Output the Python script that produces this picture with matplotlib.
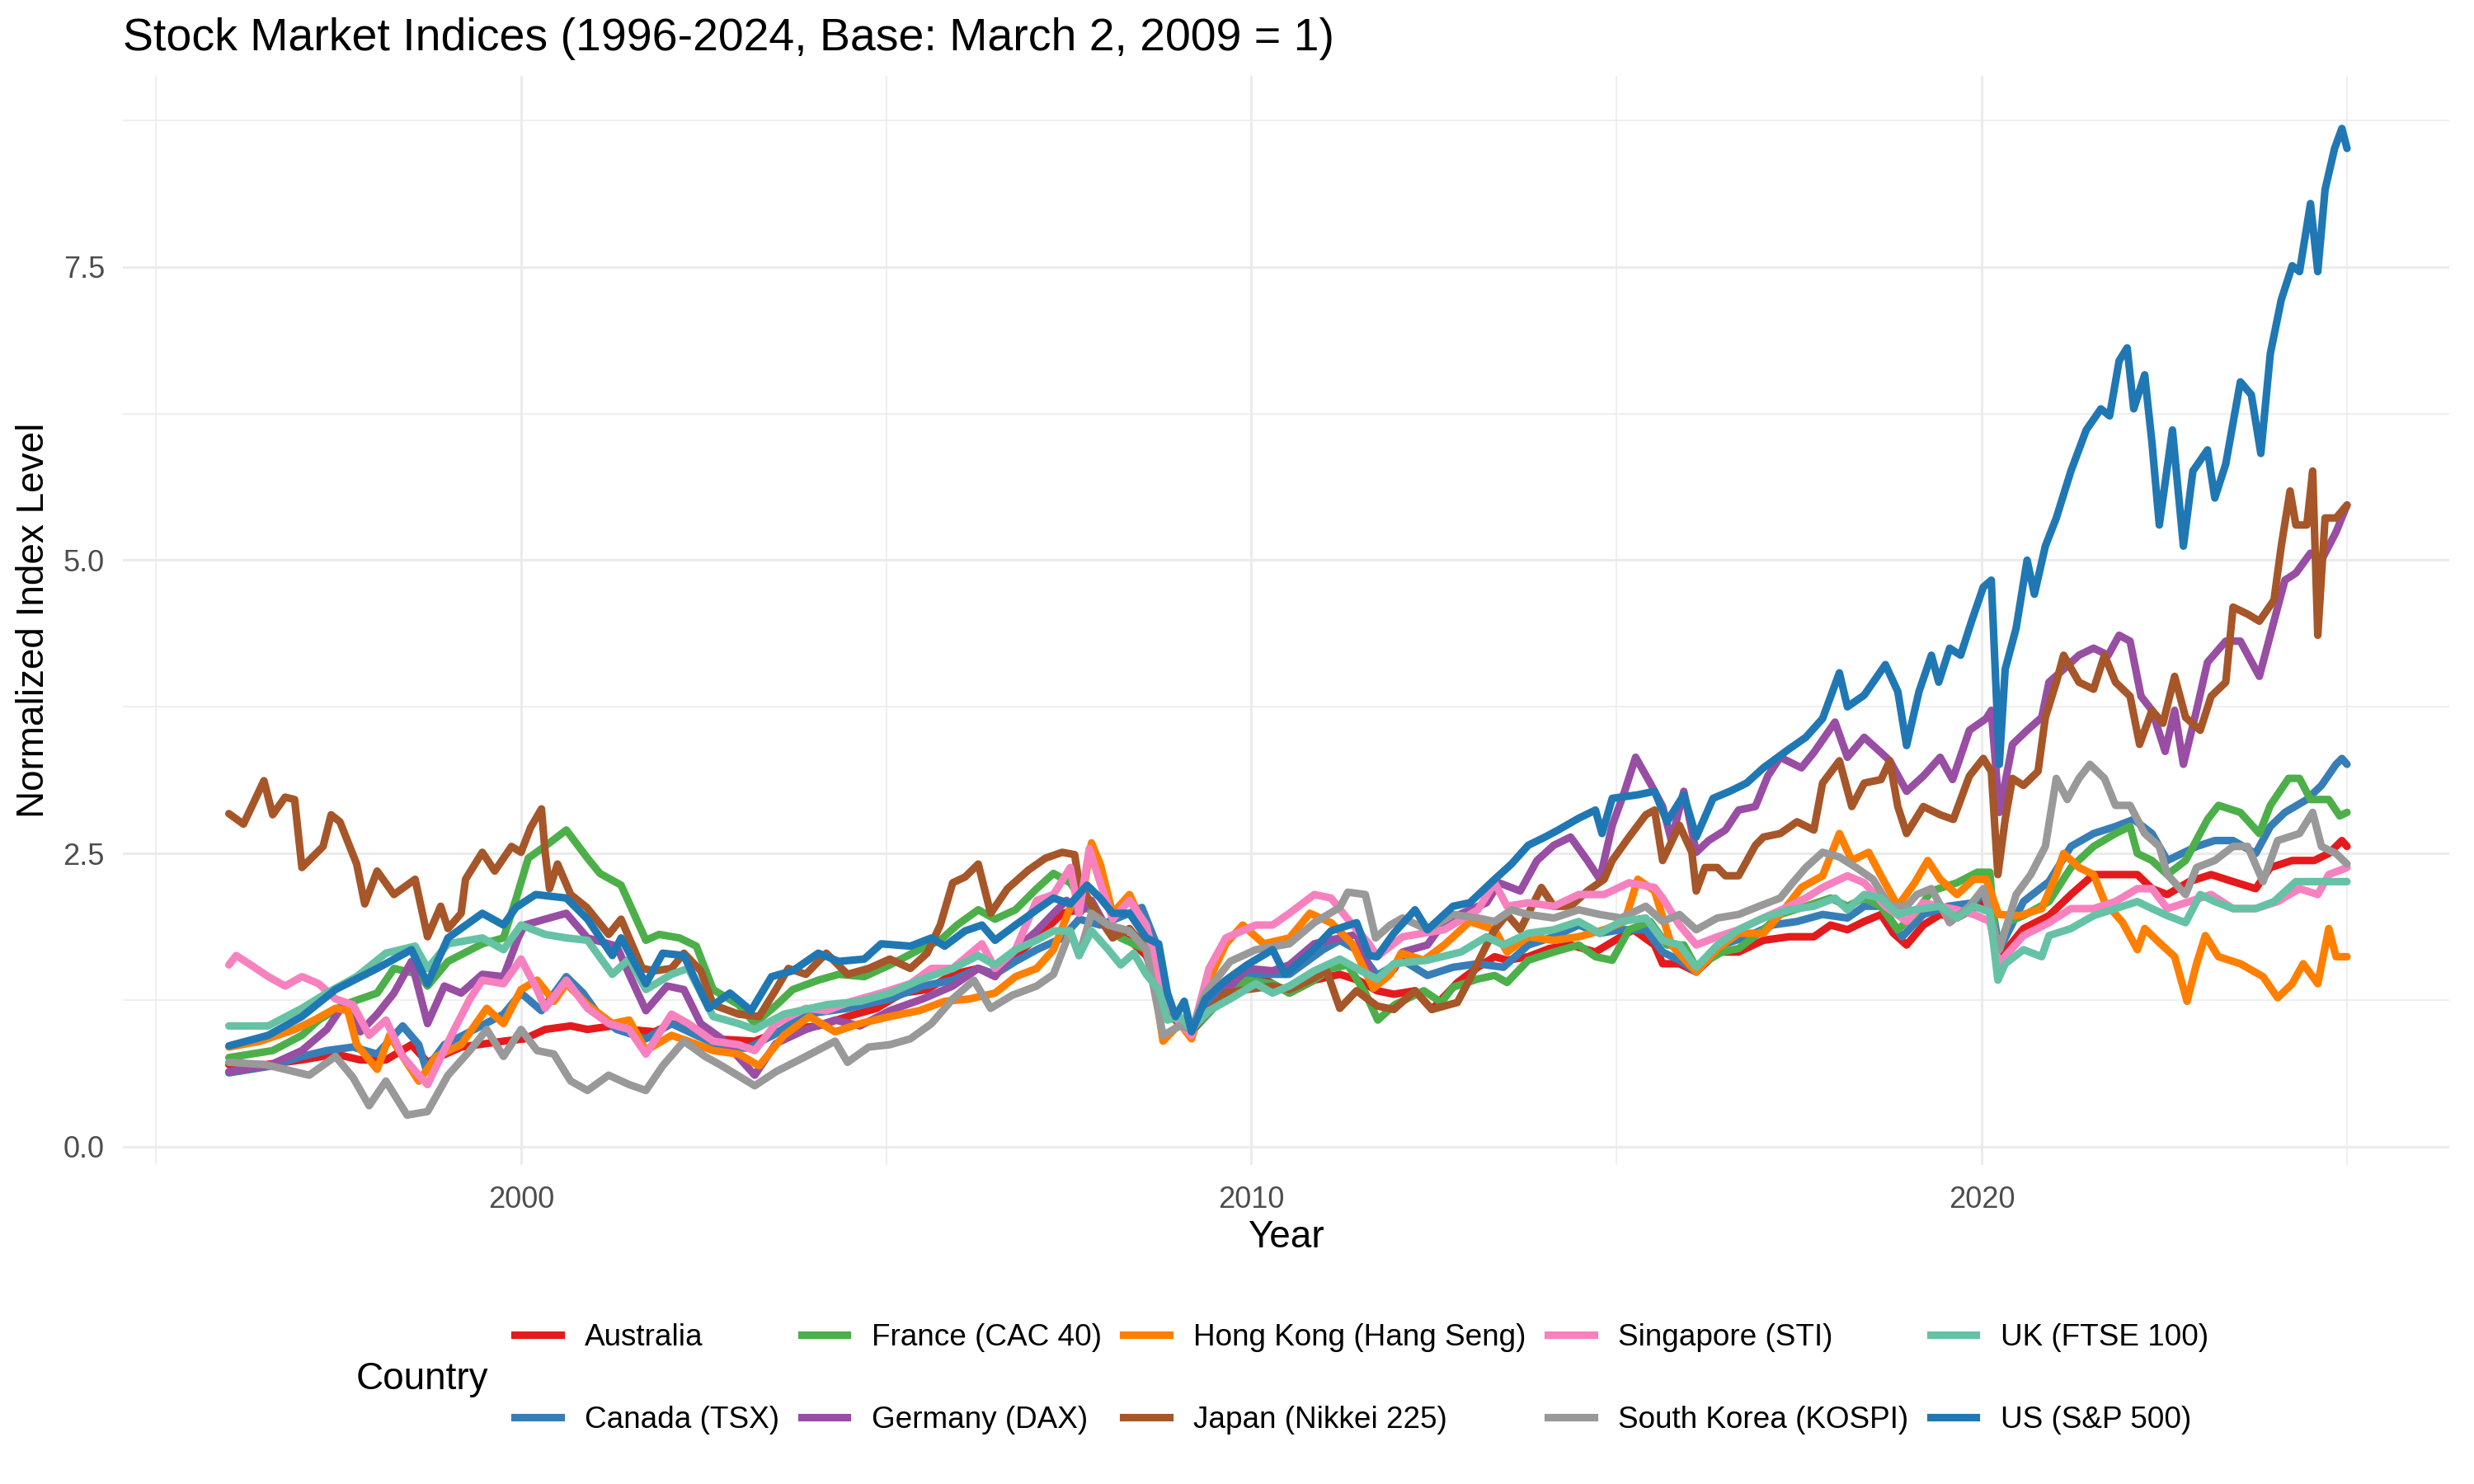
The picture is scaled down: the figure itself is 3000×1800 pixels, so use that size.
import numpy as np
import matplotlib.pyplot as plt
from matplotlib.lines import Line2D

plt.rcParams['font.family'] = ['Liberation Sans', 'DejaVu Sans']

# values (decimal year, normalized level)
aus_t = [1996.0, 1996.5, 1997.0, 1997.46, 1997.8, 1998.15, 1998.5, 1998.72, 1999.18, 1999.76,
         2000.05, 2000.33, 2000.68, 2000.91, 2001.25, 2001.48, 2001.83, 2002.06, 2002.4, 2002.63,
         2003.2, 2003.6, 2004.07, 2004.47, 2004.87, 2005.22, 2005.56, 2005.91, 2006.26, 2006.49,
         2006.77, 2007.06, 2007.41, 2007.64, 2007.81, 2008.04, 2008.33, 2008.56, 2008.79, 2009.02,
         2009.18, 2009.48, 2009.94, 2010.29, 2010.52, 2010.86, 2011.21, 2011.46, 2011.72, 2011.95,
         2012.24, 2012.47, 2012.82, 2013.1, 2013.33, 2013.5, 2013.79, 2014.08, 2014.37, 2014.71,
         2015.06, 2015.23, 2015.52, 2015.63, 2015.86, 2016.09, 2016.38, 2016.67, 2017.01, 2017.36,
         2017.7, 2017.93, 2018.16, 2018.39, 2018.62, 2018.79, 2018.97, 2019.2, 2019.43, 2019.66,
         2019.94, 2020.11, 2020.23, 2020.57, 2020.92, 2021.22, 2021.53, 2021.83, 2022.13, 2022.33,
         2022.54, 2022.84, 2023.14, 2023.44, 2023.75, 2023.95, 2024.25, 2024.55, 2024.75, 2024.93,
         2025.0]
aus_v = [0.70, 0.70, 0.74, 0.79, 0.74, 0.74, 0.87, 0.72, 0.85, 0.90,
         0.92, 1.00, 1.03, 1.00, 1.03, 1.00, 0.98, 1.05, 1.00, 0.92,
         0.90, 1.00, 1.03, 1.11, 1.18, 1.31, 1.34, 1.47, 1.52, 1.47,
         1.63, 1.78, 1.99, 2.02, 2.04, 1.84, 1.76, 1.63, 1.26, 1.05,
         1.00, 1.31, 1.52, 1.39, 1.31, 1.42, 1.47, 1.42, 1.33, 1.30,
         1.33, 1.17, 1.40, 1.53, 1.62, 1.59, 1.62, 1.69, 1.72, 1.66,
         1.79, 1.85, 1.72, 1.56, 1.56, 1.49, 1.66, 1.66, 1.76, 1.79,
         1.79, 1.89, 1.85, 1.92, 1.98, 1.82, 1.72, 1.89, 1.98, 1.95,
         2.05, 2.10, 1.60, 1.86, 1.97, 2.15, 2.32, 2.32, 2.32, 2.20,
         2.15, 2.26, 2.32, 2.26, 2.20, 2.38, 2.44, 2.44, 2.50, 2.61,
         2.56]

can_t = [1996.0, 1996.6, 1997.0, 1997.34, 1997.7, 1998.03, 1998.38, 1998.6, 1998.7, 1998.95,
         1999.3, 1999.76, 2000.0, 2000.28, 2000.62, 2000.85, 2001.08, 2001.31, 2001.71, 2002.06,
         2002.4, 2002.75, 2003.1, 2003.45, 2003.9, 2004.47, 2005.05, 2005.5, 2005.91, 2006.26,
         2006.49, 2006.77, 2007.06, 2007.41, 2007.64, 2007.93, 2008.33, 2008.5, 2008.73, 2008.85,
         2009.02, 2009.18, 2009.48, 2009.94, 2010.52, 2010.98, 2011.21, 2011.49, 2011.72, 2012.07,
         2012.41, 2012.76, 2013.1, 2013.45, 2013.79, 2014.14, 2014.48, 2014.77, 2015.06, 2015.4,
         2015.63, 2015.86, 2016.09, 2016.44, 2016.78, 2017.13, 2017.47, 2017.82, 2018.16, 2018.39,
         2018.62, 2018.91, 2019.2, 2019.54, 2019.89, 2020.1, 2020.24, 2020.57, 2020.92, 2021.22,
         2021.53, 2021.83, 2022.08, 2022.33, 2022.54, 2022.74, 2022.94, 2023.19, 2023.44, 2023.75,
         2023.95, 2024.15, 2024.45, 2024.65, 2024.85, 2024.93, 2025.0]
can_v = [0.63, 0.69, 0.77, 0.82, 0.85, 0.79, 1.03, 0.87, 0.66, 0.87,
         0.98, 1.13, 1.31, 1.16, 1.45, 1.31, 1.11, 1.00, 0.92, 1.05,
         0.95, 0.85, 0.84, 0.95, 1.13, 1.18, 1.26, 1.37, 1.42, 1.52,
         1.47, 1.58, 1.68, 1.78, 1.94, 1.89, 1.99, 2.04, 1.68, 1.26,
         1.05, 1.00, 1.26, 1.47, 1.47, 1.68, 1.76, 1.66, 1.46, 1.59,
         1.46, 1.53, 1.56, 1.53, 1.72, 1.79, 1.89, 1.82, 1.85, 1.85,
         1.66, 1.59, 1.49, 1.72, 1.79, 1.89, 1.92, 1.98, 1.95, 2.05,
         2.05, 1.79, 1.98, 2.05, 2.08, 2.20, 1.68, 2.09, 2.26, 2.56,
         2.67, 2.73, 2.79, 2.67, 2.44, 2.50, 2.56, 2.61, 2.61, 2.50,
         2.73, 2.85, 2.96, 3.08, 3.26, 3.31, 3.26]

fra_t = [1996.0, 1996.6, 1997.0, 1997.23, 1997.57, 1998.03, 1998.26, 1998.6, 1998.72, 1999.0,
         1999.47, 1999.76, 1999.93, 2000.1, 2000.39, 2000.62, 2000.91, 2001.08, 2001.37, 2001.71,
         2001.89, 2002.17, 2002.4, 2002.63, 2002.98, 2003.2, 2003.5, 2003.72, 2004.07, 2004.35,
         2004.7, 2005.05, 2005.45, 2005.74, 2005.97, 2006.26, 2006.49, 2006.77, 2007.06, 2007.29,
         2007.52, 2007.75, 2007.98, 2008.21, 2008.56, 2008.79, 2009.02, 2009.18, 2009.48, 2009.94,
         2010.29, 2010.52, 2010.86, 2011.09, 2011.32, 2011.56, 2011.73, 2011.96, 2012.36, 2012.6,
         2012.76, 2013.1, 2013.33, 2013.5, 2013.79, 2014.14, 2014.48, 2014.71, 2014.94, 2015.17,
         2015.46, 2015.69, 2015.92, 2016.09, 2016.44, 2016.67, 2017.01, 2017.24, 2017.59, 2017.93,
         2018.16, 2018.39, 2018.62, 2018.85, 2019.08, 2019.31, 2019.66, 2019.94, 2020.11, 2020.2,
         2020.37, 2020.57, 2020.92, 2021.22, 2021.53, 2021.83, 2022.03, 2022.13, 2022.33, 2022.54,
         2022.79, 2023.09, 2023.24, 2023.54, 2023.8, 2023.95, 2024.2, 2024.35, 2024.5, 2024.75,
         2024.9, 2025.0]
fra_v = [0.76, 0.82, 0.95, 1.08, 1.21, 1.31, 1.52, 1.47, 1.37, 1.58,
         1.73, 1.78, 2.11, 2.46, 2.59, 2.70, 2.46, 2.33, 2.23, 1.76,
         1.81, 1.78, 1.71, 1.34, 1.21, 1.05, 1.21, 1.34, 1.42, 1.47,
         1.45, 1.55, 1.68, 1.76, 1.89, 2.02, 1.94, 2.02, 2.20, 2.33,
         2.25, 2.04, 1.91, 1.78, 1.68, 1.31, 1.05, 0.98, 1.18, 1.42,
         1.39, 1.31, 1.42, 1.52, 1.55, 1.31, 1.08, 1.21, 1.33, 1.23,
         1.36, 1.43, 1.46, 1.40, 1.59, 1.66, 1.72, 1.62, 1.59, 1.85,
         1.92, 1.72, 1.72, 1.53, 1.66, 1.69, 1.85, 1.98, 2.05, 2.12,
         2.05, 2.12, 2.05, 1.85, 1.98, 2.18, 2.25, 2.34, 2.34, 1.66,
         1.92, 1.97, 2.09, 2.38, 2.56, 2.67, 2.73, 2.50, 2.44, 2.32,
         2.44, 2.79, 2.91, 2.85, 2.67, 2.91, 3.14, 3.14, 2.96, 2.96,
         2.82, 2.85]

ger_t = [1996.0, 1996.54, 1997.0, 1997.34, 1997.57, 1997.8, 1998.03, 1998.26, 1998.5, 1998.72,
         1998.95, 1999.18, 1999.47, 1999.76, 1999.96, 2000.05, 2000.33, 2000.62, 2000.91, 2001.31,
         2001.48, 2001.71, 2002.0, 2002.23, 2002.46, 2002.75, 2003.2, 2003.49, 2003.9, 2004.3,
         2004.64, 2005.05, 2005.5, 2005.91, 2006.26, 2006.49, 2006.77, 2007.06, 2007.29, 2007.47,
         2007.64, 2007.81, 2008.04, 2008.33, 2008.56, 2008.73, 2008.9, 2009.18, 2009.48, 2009.94,
         2010.29, 2010.52, 2010.86, 2011.21, 2011.44, 2011.7, 2011.96, 2012.07, 2012.41, 2012.64,
         2012.99, 2013.22, 2013.39, 2013.68, 2013.91, 2014.14, 2014.37, 2014.6, 2014.77, 2014.94,
         2015.11, 2015.26, 2015.46, 2015.63, 2015.75, 2015.92, 2016.09, 2016.26, 2016.49, 2016.67,
         2016.9, 2017.07, 2017.24, 2017.53, 2017.7, 2017.99, 2018.16, 2018.39, 2018.62, 2018.74,
         2018.97, 2019.2, 2019.43, 2019.6, 2019.83, 2020.06, 2020.13, 2020.24, 2020.42, 2020.62,
         2020.82, 2020.92, 2021.12, 2021.33, 2021.53, 2021.73, 2021.88, 2022.03, 2022.18, 2022.33,
         2022.51, 2022.64, 2022.76, 2022.94, 2023.09, 2023.34, 2023.54, 2023.8, 2024.0, 2024.15,
         2024.3, 2024.5, 2024.65, 2024.85, 2025.0]
ger_v = [0.64, 0.69, 0.82, 1.00, 1.21, 0.98, 1.13, 1.31, 1.58, 1.05,
         1.37, 1.31, 1.47, 1.45, 1.78, 1.89, 1.94, 1.99, 1.78, 1.71,
         1.47, 1.16, 1.37, 1.34, 1.05, 0.92, 0.61, 0.88, 1.00, 1.08,
         1.03, 1.16, 1.26, 1.37, 1.52, 1.45, 1.68, 1.84, 1.99, 2.10,
         1.99, 2.10, 1.84, 1.84, 1.73, 1.52, 1.11, 0.98, 1.21, 1.52,
         1.50, 1.55, 1.73, 1.78, 1.81, 1.37, 1.52, 1.66, 1.72, 1.92,
         2.02, 2.08, 2.25, 2.18, 2.44, 2.57, 2.64, 2.44, 2.28, 2.74,
         3.03, 3.32, 3.10, 2.90, 2.61, 3.03, 2.51, 2.61, 2.70, 2.87,
         2.90, 3.16, 3.32, 3.23, 3.36, 3.62, 3.32, 3.49, 3.36, 3.29,
         3.03, 3.16, 3.32, 3.13, 3.55, 3.65, 3.72, 2.85, 3.43, 3.55,
         3.66, 3.96, 4.07, 4.19, 4.25, 4.19, 4.36, 4.31, 3.84, 3.72,
         3.37, 3.72, 3.26, 3.72, 4.13, 4.31, 4.31, 4.01, 4.48, 4.83,
         4.89, 5.06, 5.00, 5.24, 5.47]

hk_t = [1996.0, 1996.43, 1996.9, 1997.17, 1997.46, 1997.63, 1997.75, 1998.03, 1998.2, 1998.38,
        1998.6, 1998.84, 1999.18, 1999.53, 1999.76, 2000.0, 2000.22, 2000.45, 2000.62, 2000.91,
        2001.25, 2001.48, 2001.71, 2002.06, 2002.29, 2002.63, 2002.98, 2003.26, 2003.6, 2003.95,
        2004.3, 2004.64, 2005.05, 2005.45, 2005.8, 2006.14, 2006.49, 2006.77, 2007.06, 2007.29,
        2007.52, 2007.7, 2007.81, 2007.93, 2008.1, 2008.33, 2008.56, 2008.79, 2009.02, 2009.18,
        2009.42, 2009.65, 2009.88, 2010.17, 2010.52, 2010.8, 2011.09, 2011.38, 2011.67, 2011.9,
        2012.05, 2012.36, 2012.64, 2012.99, 2013.33, 2013.5, 2013.79, 2014.14, 2014.48, 2014.83,
        2015.11, 2015.29, 2015.52, 2015.75, 2016.09, 2016.38, 2016.67, 2017.01, 2017.24, 2017.53,
        2017.82, 2018.05, 2018.22, 2018.45, 2018.62, 2018.85, 2019.08, 2019.26, 2019.43, 2019.66,
        2019.89, 2020.06, 2020.23, 2020.52, 2020.82, 2021.02, 2021.12, 2021.33, 2021.53, 2021.68,
        2021.93, 2022.13, 2022.23, 2022.43, 2022.64, 2022.81, 2022.94, 2023.06, 2023.24, 2023.54,
        2023.85, 2024.05, 2024.25, 2024.4, 2024.6, 2024.75, 2024.85, 2025.0]
hk_v = [0.85, 0.90, 1.00, 1.08, 1.18, 1.16, 0.87, 0.66, 0.95, 0.77,
        0.56, 0.77, 0.87, 1.18, 1.05, 1.34, 1.42, 1.24, 1.39, 1.21,
        1.05, 1.08, 0.82, 0.95, 0.90, 0.82, 0.79, 0.69, 0.95, 1.11,
        0.98, 1.05, 1.11, 1.16, 1.24, 1.26, 1.31, 1.45, 1.52, 1.68,
        2.04, 2.20, 2.59, 2.41, 1.99, 2.15, 1.84, 0.90, 1.05, 0.92,
        1.42, 1.73, 1.89, 1.73, 1.78, 1.99, 1.91, 1.73, 1.35, 1.47,
        1.65, 1.59, 1.72, 1.92, 1.85, 1.66, 1.79, 1.76, 1.79, 1.85,
        1.92, 2.28, 2.18, 1.72, 1.49, 1.69, 1.82, 1.82, 1.98, 2.21,
        2.31, 2.67, 2.44, 2.51, 2.31, 2.05, 2.25, 2.44, 2.28, 2.15,
        2.28, 2.28, 1.98, 1.97, 2.03, 2.32, 2.50, 2.38, 2.32, 2.09,
        1.91, 1.68, 1.86, 1.74, 1.62, 1.24, 1.56, 1.80, 1.62, 1.56,
        1.45, 1.27, 1.39, 1.56, 1.39, 1.86, 1.62, 1.62]

jpn_t = [1996.0, 1996.2, 1996.48, 1996.6, 1996.77, 1996.9, 1997.0, 1997.29, 1997.4, 1997.52,
         1997.75, 1997.86, 1998.03, 1998.26, 1998.55, 1998.72, 1998.9, 1999.0, 1999.18, 1999.24,
         1999.47, 1999.64, 1999.87, 2000.0, 2000.13, 2000.28, 2000.33, 2000.39, 2000.5, 2000.68,
         2000.9, 2001.2, 2001.37, 2001.66, 2001.83, 2002.06, 2002.23, 2002.46, 2002.63, 2002.98,
         2003.26, 2003.49, 2003.66, 2003.9, 2004.18, 2004.47, 2004.76, 2005.05, 2005.33, 2005.56,
         2005.74, 2005.91, 2006.08, 2006.26, 2006.43, 2006.66, 2006.95, 2007.18, 2007.41, 2007.58,
         2007.64, 2007.93, 2008.1, 2008.33, 2008.56, 2008.73, 2008.85, 2009.02, 2009.18, 2009.37,
         2009.65, 2009.94, 2010.29, 2010.52, 2010.8, 2011.03, 2011.21, 2011.44, 2011.72, 2011.95,
         2012.24, 2012.47, 2012.82, 2012.99, 2013.22, 2013.33, 2013.5, 2013.68, 2013.97, 2014.14,
         2014.37, 2014.6, 2014.83, 2014.94, 2015.17, 2015.4, 2015.52, 2015.63, 2015.86, 2016.03,
         2016.09, 2016.21, 2016.38, 2016.49, 2016.67, 2016.9, 2017.01, 2017.24, 2017.47, 2017.7,
         2017.82, 2018.05, 2018.22, 2018.39, 2018.62, 2018.74, 2018.85, 2018.97, 2019.2, 2019.43,
         2019.61, 2019.83, 2020.02, 2020.13, 2020.22, 2020.32, 2020.42, 2020.57, 2020.77, 2020.87,
         2021.02, 2021.12, 2021.33, 2021.53, 2021.68, 2021.83, 2022.03, 2022.16, 2022.33, 2022.48,
         2022.64, 2022.79, 2022.99, 2023.14, 2023.34, 2023.44, 2023.64, 2023.8, 2024.0, 2024.1,
         2024.22, 2024.3, 2024.45, 2024.53, 2024.6, 2024.7, 2024.85, 2025.0]
jpn_v = [2.84, 2.75, 3.12, 2.83, 2.98, 2.96, 2.38, 2.56, 2.83, 2.77,
         2.41, 2.07, 2.35, 2.15, 2.28, 1.79, 2.05, 1.86, 1.99, 2.28,
         2.51, 2.35, 2.56, 2.51, 2.72, 2.88, 2.51, 2.20, 2.41, 2.15,
         2.04, 1.81, 1.94, 1.52, 1.50, 1.52, 1.65, 1.50, 1.21, 1.13,
         1.11, 1.34, 1.52, 1.47, 1.65, 1.47, 1.52, 1.60, 1.52, 1.65,
         1.89, 2.25, 2.30, 2.41, 1.99, 2.20, 2.36, 2.46, 2.51, 2.49,
         2.25, 1.94, 1.78, 1.86, 1.68, 1.52, 1.13, 1.05, 0.98, 1.13,
         1.31, 1.34, 1.37, 1.34, 1.42, 1.50, 1.18, 1.33, 1.20, 1.17,
         1.33, 1.17, 1.23, 1.43, 1.72, 1.85, 1.98, 1.85, 2.21, 2.05,
         2.05, 2.18, 2.28, 2.44, 2.64, 2.83, 2.87, 2.44, 2.74, 2.51,
         2.18, 2.38, 2.38, 2.31, 2.31, 2.57, 2.64, 2.67, 2.77, 2.70,
         3.10, 3.29, 2.90, 3.10, 3.13, 3.29, 2.90, 2.67, 2.90, 2.83,
         2.79, 3.16, 3.31, 3.20, 2.32, 2.79, 3.14, 3.08, 3.20, 3.66,
         3.96, 4.19, 3.96, 3.90, 4.19, 3.96, 3.84, 3.43, 3.72, 3.61,
         4.01, 3.66, 3.55, 3.84, 3.96, 4.60, 4.54, 4.48, 4.66, 5.12,
         5.59, 5.30, 5.30, 5.76, 4.36, 5.36, 5.36, 5.47]

sgp_t = [1996.0, 1996.1, 1996.3, 1996.54, 1996.77, 1997.0, 1997.23, 1997.46, 1997.7, 1997.92,
         1998.15, 1998.38, 1998.6, 1998.72, 1999.07, 1999.3, 1999.47, 1999.76, 2000.0, 2000.22,
         2000.33, 2000.62, 2000.91, 2001.2, 2001.48, 2001.71, 2002.06, 2002.29, 2002.63, 2002.98,
         2003.2, 2003.49, 2003.9, 2004.18, 2004.53, 2004.93, 2005.33, 2005.62, 2005.91, 2006.31,
         2006.49, 2006.77, 2007.06, 2007.29, 2007.52, 2007.64, 2007.78, 2007.93, 2008.1, 2008.33,
         2008.56, 2008.79, 2009.02, 2009.18, 2009.42, 2009.65, 2010.06, 2010.29, 2010.52, 2010.86,
         2011.09, 2011.32, 2011.61, 2011.72, 2012.07, 2012.64, 2013.1, 2013.33, 2013.5, 2013.79,
         2014.14, 2014.48, 2014.83, 2015.17, 2015.52, 2015.63, 2015.86, 2016.09, 2016.38, 2016.67,
         2017.01, 2017.36, 2017.59, 2017.82, 2018.16, 2018.39, 2018.68, 2018.97, 2019.2, 2019.43,
         2019.66, 2019.89, 2020.11, 2020.23, 2020.57, 2020.92, 2021.22, 2021.53, 2021.83, 2022.13,
         2022.33, 2022.54, 2022.84, 2023.14, 2023.44, 2023.75, 2024.05, 2024.35, 2024.6, 2024.75,
         2025.0]
sgp_v = [1.55, 1.63, 1.55, 1.45, 1.37, 1.45, 1.39, 1.26, 1.21, 0.95,
         1.08, 0.77, 0.61, 0.53, 0.98, 1.26, 1.42, 1.39, 1.60, 1.34,
         1.18, 1.42, 1.18, 1.05, 1.00, 0.79, 1.13, 1.05, 0.90, 0.87,
         0.82, 1.05, 1.18, 1.16, 1.24, 1.31, 1.39, 1.52, 1.52, 1.73,
         1.52, 1.68, 2.10, 2.15, 2.38, 1.99, 2.54, 2.25, 1.94, 2.10,
         1.89, 1.31, 1.05, 0.95, 1.52, 1.78, 1.89, 1.89, 1.99, 2.15,
         2.12, 1.94, 1.73, 1.62, 1.79, 1.85, 2.02, 2.25, 2.05, 2.08,
         2.05, 2.15, 2.15, 2.25, 2.21, 2.12, 1.89, 1.72, 1.79, 1.85,
         1.95, 2.05, 2.12, 2.21, 2.31, 2.25, 2.05, 1.92, 2.08, 2.05,
         2.02, 1.98, 1.92, 1.56, 1.80, 1.91, 2.03, 2.03, 2.09, 2.20,
         2.20, 2.03, 2.09, 2.15, 2.03, 2.03, 2.09, 2.20, 2.15, 2.32,
         2.38]

kor_t = [1996.0, 1996.5, 1997.1, 1997.46, 1997.7, 1997.92, 1998.15, 1998.44, 1998.72, 1999.0,
         1999.3, 1999.53, 1999.76, 2000.0, 2000.22, 2000.45, 2000.68, 2000.91, 2001.2, 2001.48,
         2001.71, 2001.94, 2002.23, 2002.52, 2002.75, 2003.2, 2003.49, 2003.9, 2004.3, 2004.47,
         2004.76, 2005.05, 2005.33, 2005.62, 2005.91, 2006.2, 2006.43, 2006.72, 2007.06, 2007.29,
         2007.52, 2007.64, 2007.81, 2008.04, 2008.33, 2008.56, 2008.79, 2009.02, 2009.18, 2009.37,
         2009.71, 2010.06, 2010.52, 2010.86, 2011.21, 2011.32, 2011.56, 2011.7, 2011.9, 2012.07,
         2012.41, 2012.76, 2013.1, 2013.33, 2013.56, 2013.79, 2014.14, 2014.48, 2014.77, 2015.06,
         2015.4, 2015.63, 2015.86, 2016.09, 2016.38, 2016.67, 2016.95, 2017.24, 2017.41, 2017.59,
         2017.82, 2018.05, 2018.28, 2018.51, 2018.74, 2018.97, 2019.11, 2019.31, 2019.56, 2019.83,
         2020.02, 2020.24, 2020.47, 2020.67, 2020.87, 2021.02, 2021.17, 2021.33, 2021.48, 2021.68,
         2021.83, 2022.03, 2022.23, 2022.43, 2022.54, 2022.79, 2022.94, 2023.19, 2023.44, 2023.64,
         2023.85, 2024.05, 2024.35, 2024.53, 2024.65, 2024.85, 2025.0]
kor_v = [0.72, 0.70, 0.61, 0.77, 0.59, 0.35, 0.56, 0.27, 0.30, 0.61,
         0.82, 1.00, 0.77, 1.00, 0.82, 0.79, 0.56, 0.48, 0.61, 0.53,
         0.48, 0.69, 0.90, 0.77, 0.69, 0.52, 0.64, 0.77, 0.90, 0.72,
         0.85, 0.87, 0.92, 1.05, 1.26, 1.42, 1.18, 1.29, 1.37, 1.47,
         1.84, 1.63, 1.99, 1.89, 1.84, 1.68, 0.95, 1.03, 1.00, 1.31,
         1.58, 1.68, 1.73, 1.91, 2.04, 2.17, 2.15, 1.78, 1.89, 1.95,
         1.85, 1.98, 1.95, 1.92, 2.02, 1.98, 1.95, 2.02, 1.98, 1.95,
         2.05, 1.92, 1.98, 1.85, 1.95, 1.98, 2.05, 2.12, 2.25, 2.38,
         2.51, 2.47, 2.38, 2.28, 2.05, 2.05, 2.15, 2.20, 1.91, 2.05,
         2.20, 1.68, 2.15, 2.32, 2.56, 3.14, 2.96, 3.14, 3.26, 3.14,
         2.91, 2.91, 2.67, 2.56, 2.32, 2.15, 2.38, 2.44, 2.56, 2.56,
         2.26, 2.61, 2.67, 2.85, 2.56, 2.50, 2.41]

uk_t = [1996.0, 1996.54, 1997.0, 1997.34, 1997.75, 1998.15, 1998.55, 1998.72, 1999.0, 1999.47,
        1999.76, 2000.0, 2000.33, 2000.62, 2000.91, 2001.25, 2001.48, 2001.71, 2002.06, 2002.29,
        2002.63, 2002.98, 2003.2, 2003.6, 2004.18, 2004.64, 2005.05, 2005.45, 2005.91, 2006.26,
        2006.49, 2006.77, 2007.06, 2007.29, 2007.52, 2007.64, 2007.81, 2008.04, 2008.21, 2008.39,
        2008.56, 2008.73, 2008.85, 2009.02, 2009.18, 2009.42, 2009.71, 2010.06, 2010.29, 2010.52,
        2010.86, 2011.21, 2011.5, 2011.72, 2011.95, 2012.41, 2012.87, 2013.22, 2013.45, 2013.79,
        2014.14, 2014.48, 2014.77, 2015.06, 2015.4, 2015.63, 2015.86, 2016.09, 2016.38, 2016.67,
        2017.01, 2017.36, 2017.7, 2017.99, 2018.16, 2018.39, 2018.62, 2018.85, 2019.08, 2019.43,
        2019.66, 2019.89, 2020.11, 2020.22, 2020.32, 2020.57, 2020.82, 2020.92, 2021.22, 2021.53,
        2021.83, 2022.13, 2022.33, 2022.54, 2022.79, 2022.99, 2023.19, 2023.44, 2023.75, 2024.0,
        2024.3, 2024.6, 2024.85, 2025.0]
uk_v = [1.03, 1.03, 1.18, 1.31, 1.45, 1.65, 1.71, 1.52, 1.73, 1.78,
        1.68, 1.89, 1.81, 1.78, 1.76, 1.47, 1.60, 1.34, 1.47, 1.52,
        1.11, 1.05, 1.00, 1.13, 1.21, 1.24, 1.31, 1.42, 1.52, 1.63,
        1.55, 1.68, 1.76, 1.84, 1.84, 1.63, 1.84, 1.68, 1.55, 1.65,
        1.47, 1.34, 1.08, 1.11, 1.00, 1.16, 1.26, 1.39, 1.31, 1.37,
        1.50, 1.60, 1.50, 1.43, 1.56, 1.59, 1.66, 1.79, 1.72, 1.82,
        1.85, 1.92, 1.82, 1.92, 1.95, 1.76, 1.72, 1.53, 1.72, 1.85,
        1.95, 2.02, 2.05, 2.12, 2.02, 2.15, 2.12, 1.98, 2.02, 2.05,
        1.95, 2.05, 2.00, 1.42, 1.56, 1.68, 1.62, 1.80, 1.86, 1.97,
        2.03, 2.09, 2.03, 1.97, 1.91, 2.15, 2.09, 2.03, 2.03, 2.09,
        2.26, 2.26, 2.26, 2.26]

us_t = [1996.0, 1996.54, 1997.0, 1997.46, 1998.03, 1998.5, 1998.72, 1999.0, 1999.47, 1999.76,
        1999.93, 2000.2, 2000.62, 2000.91, 2001.25, 2001.37, 2001.71, 2001.94, 2002.23, 2002.57,
        2002.86, 2003.15, 2003.43, 2003.72, 2004.07, 2004.35, 2004.7, 2004.93, 2005.33, 2005.62,
        2005.8, 2006.08, 2006.31, 2006.49, 2006.77, 2007.06, 2007.29, 2007.52, 2007.75, 2007.93,
        2008.1, 2008.33, 2008.56, 2008.73, 2008.85, 2008.96, 2009.08, 2009.18, 2009.37, 2009.65,
        2009.94, 2010.29, 2010.46, 2010.8, 2011.09, 2011.44, 2011.61, 2011.72, 2011.95, 2012.24,
        2012.41, 2012.76, 2012.99, 2013.33, 2013.56, 2013.79, 2014.02, 2014.2, 2014.48, 2014.71,
        2014.8, 2014.94, 2015.29, 2015.52, 2015.69, 2015.92, 2016.09, 2016.32, 2016.55, 2016.78,
        2017.01, 2017.36, 2017.59, 2017.82, 2018.05, 2018.16, 2018.39, 2018.68, 2018.85, 2018.97,
        2019.14, 2019.31, 2019.41, 2019.56, 2019.71, 2019.86, 2020.02, 2020.13, 2020.24, 2020.32,
        2020.47, 2020.62, 2020.72, 2020.87, 2021.02, 2021.22, 2021.43, 2021.63, 2021.75, 2021.88,
        2021.99, 2022.08, 2022.23, 2022.33, 2022.43, 2022.61, 2022.76, 2022.89, 2023.09, 2023.19,
        2023.34, 2023.54, 2023.69, 2023.82, 2023.95, 2024.1, 2024.25, 2024.35, 2024.5, 2024.6,
        2024.7, 2024.83, 2024.93, 2025.0]
us_v = [0.86, 0.95, 1.11, 1.34, 1.52, 1.68, 1.39, 1.78, 1.99, 1.89,
        2.04, 2.15, 2.12, 1.94, 1.63, 1.78, 1.39, 1.65, 1.63, 1.18,
        1.31, 1.16, 1.45, 1.50, 1.65, 1.58, 1.60, 1.73, 1.71, 1.78,
        1.71, 1.84, 1.89, 1.76, 1.89, 2.02, 2.12, 2.07, 2.23, 2.12,
        1.99, 1.99, 1.78, 1.73, 1.31, 1.11, 1.24, 0.98, 1.26, 1.42,
        1.55, 1.68, 1.47, 1.65, 1.84, 1.91, 1.63, 1.62, 1.82, 2.02,
        1.85, 2.05, 2.08, 2.28, 2.41, 2.57, 2.64, 2.70, 2.80, 2.87,
        2.67, 2.97, 3.00, 3.03, 2.77, 3.00, 2.64, 2.97, 3.03, 3.10,
        3.23, 3.39, 3.49, 3.65, 4.04, 3.75, 3.85, 4.11, 3.88, 3.42,
        3.88, 4.19, 3.96, 4.25, 4.19, 4.48, 4.77, 4.83, 3.26, 4.07,
        4.42, 5.00, 4.71, 5.12, 5.36, 5.76, 6.11, 6.29, 6.23, 6.70,
        6.81, 6.29, 6.58, 6.00, 5.30, 6.11, 5.12, 5.76, 5.94, 5.53,
        5.82, 6.52, 6.41, 5.91, 6.76, 7.22, 7.51, 7.46, 8.04, 7.46,
        8.16, 8.51, 8.68, 8.51]

countries = ['Australia', 'Canada (TSX)', 'France (CAC 40)', 'Germany (DAX)',
             'Hong Kong (Hang Seng)', 'Japan (Nikkei 225)', 'Singapore (STI)',
             'South Korea (KOSPI)', 'UK (FTSE 100)', 'US (S&P 500)']
series = [(aus_t, aus_v), (can_t, can_v), (fra_t, fra_v), (ger_t, ger_v), (hk_t, hk_v),
          (jpn_t, jpn_v), (sgp_t, sgp_v), (kor_t, kor_v), (uk_t, uk_v), (us_t, us_v)]
colors = ['#E41A1C', '#377EB8', '#4DAF4A', '#984EA3', '#FF7F00',
          '#A65628', '#F781BF', '#999999', '#66C2A5', '#1F78B4']

fig = plt.figure(figsize=(15, 9), dpi=200)
ax = fig.add_axes([0.0497, 0.215, 0.9403, 0.734])

for (t, v), c in zip(series, colors):
    ax.plot(t, v, color=c, lw=3.3, solid_joinstyle='round', solid_capstyle='round')

ax.set_xlim(1994.55, 2026.4)
ax.set_ylim(-0.155, 9.13)
ax.set_xticks([2000, 2010, 2020])
ax.set_xticks([1995, 2005, 2015, 2025], minor=True)
ax.set_yticks([0, 2.5, 5.0, 7.5])
ax.set_yticklabels(['0.0', '2.5', '5.0', '7.5'])
ax.set_yticks([1.25, 3.75, 6.25, 8.75], minor=True)
ax.grid(which='major', color='#EBEBEB', lw=1.1)
ax.grid(which='minor', color='#EBEBEB', lw=0.55)
ax.set_axisbelow(True)
for s in ax.spines.values():
    s.set_visible(False)
ax.tick_params(which='both', length=0, labelsize=13, labelcolor='#4D4D4D')
ax.tick_params(axis='y', pad=8)
ax.tick_params(axis='x', pad=9)

ax.set_xlabel('Year', fontsize=16.5, labelpad=2)
ax.set_ylabel('Normalized Index Level', fontsize=16.5, labelpad=5)
fig.text(0.0497, 0.974, 'Stock Market Indices (1996-2024, Base: March 2, 2009 = 1)',
         fontsize=20, ha='left', va='center')

handles = [Line2D([0], [0], color=c, lw=3.3) for c in colors]
fig.legend(handles, countries, ncol=5, loc='center left', bbox_to_anchor=(0.197, 0.0707),
           frameon=False, fontsize=13.3, handlelength=1.5, handletextpad=0.8,
           columnspacing=0.72, labelspacing=1.75)
fig.text(0.144, 0.0707, 'Country', fontsize=16.5, ha='left', va='center')

fig.savefig('out.png', dpi=200, facecolor='white')
